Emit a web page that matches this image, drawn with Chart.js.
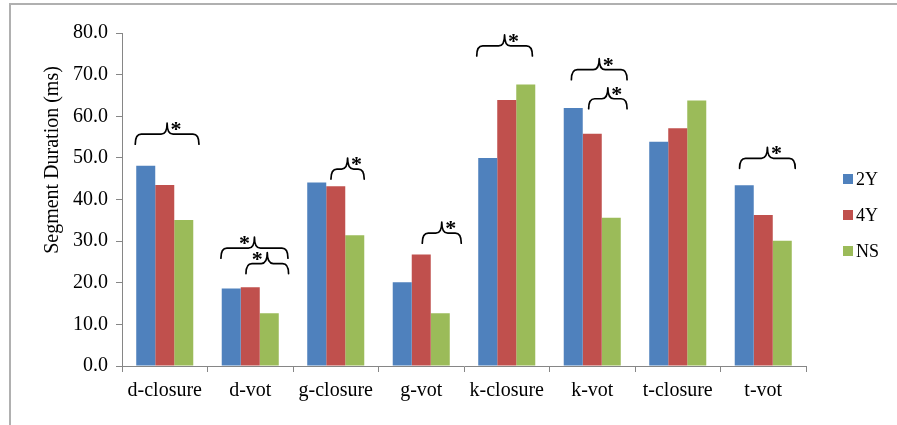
<!DOCTYPE html>
<html>
<head>
<meta charset="utf-8">
<script src="https://cdn.jsdelivr.net/npm/chart.js@4/dist/chart.umd.min.js"></script>
<style>
  html, body { margin: 0; padding: 0; background: #ffffff; }
  #wrap { width: 897px; height: 425px; }
</style>
</head>
<body>
<div id="wrap"><canvas id="chart" width="897" height="425"></canvas></div>
<script>
// Segment durations (ms) per consonant segment and speaker group
const segments = ['d-closure', 'd-vot', 'g-closure', 'g-vot', 'k-closure', 'k-vot', 't-closure', 't-vot'];
const seriesNames = ['2Y', '4Y', 'NS'];
const values2Y = [48.1, 18.6, 44.1, 20.1, 50.0, 62.0, 53.9, 43.4];
const values4Y = [43.5, 18.9, 43.2, 26.8, 63.9, 55.8, 57.1, 36.3];
const valuesNS = [35.1, 12.7, 31.4, 12.7, 67.6, 35.6, 63.8, 30.1];
const yTicks = [0, 10, 20, 30, 40, 50, 60, 70, 80];

// Significance markers: which segment, span (in category widths, relative to the
// category centre) and the level (ms) of the brace's horizontal stroke
const sigSegment = ['d-closure', 'd-vot', 'd-vot', 'g-closure', 'g-vot', 'k-closure', 'k-vot', 'k-vot', 't-vot'];
const sigFrom    = [-0.345, -0.343, -0.050, -0.056, 0.012, -0.351, -0.244, -0.042, -0.277];
const sigTo      = [ 0.400,  0.441,  0.448,  0.333, 0.468,  0.300,  0.407,  0.407,  0.374];
const sigLevel   = [ 55.7,   28.3,   24.6,   47.3,  31.9,   76.9,   71.2,   64.2,   49.9];
const sigStarLeft = [false, true, true, false, false, false, false, false, false];

const colors = ['#4F81BD', '#C0504D', '#9BBB59'];
const serif = "'Liberation Serif', 'Times New Roman', serif";

function drawBrace(ctx, x1, x2, y, tip, rise) {
  const xm = (x1 + x2) / 2;
  const r = 6;
  ctx.beginPath();
  ctx.moveTo(x1, y + tip);
  ctx.quadraticCurveTo(x1, y, x1 + r, y);
  ctx.lineTo(xm - r, y);
  ctx.quadraticCurveTo(xm, y, xm, y - rise);
  ctx.quadraticCurveTo(xm, y, xm + r, y);
  ctx.lineTo(x2 - r, y);
  ctx.quadraticCurveTo(x2, y, x2, y + tip);
  ctx.stroke();
}

const decorations = {
  id: 'decorations',
  beforeDraw(chart) {
    const ctx = chart.ctx;
    ctx.save();
    ctx.fillStyle = '#ffffff';
    ctx.fillRect(0, 0, chart.width, chart.height);
    // outer frame (top and left edges)
    ctx.strokeStyle = '#b0b0b0';
    ctx.lineWidth = 2;
    ctx.beginPath();
    ctx.moveTo(10, 425);
    ctx.lineTo(10, 4);
    ctx.lineTo(897, 4);
    ctx.stroke();
    ctx.restore();
  },
  afterDatasetsDraw(chart) {
    const ctx = chart.ctx;
    const xs = chart.scales.x, ys = chart.scales.y;
    const band = (xs.right - xs.left) / segments.length;
    ctx.save();
    ctx.strokeStyle = '#000000';
    ctx.lineWidth = 1.7;
    ctx.lineCap = 'round';
    ctx.lineJoin = 'round';
    ctx.fillStyle = '#000000';
    ctx.font = 'bold 22px ' + serif;
    ctx.textAlign = 'center';
    ctx.textBaseline = 'alphabetic';
    sigSegment.forEach((seg, i) => {
      const cx = xs.getPixelForValue(segments.indexOf(seg));
      const x1 = cx + sigFrom[i] * band;
      const x2 = cx + sigTo[i] * band;
      const y = ys.getPixelForValue(sigLevel[i]);
      drawBrace(ctx, x1, x2, y, 10, 11);
      const xm = (x1 + x2) / 2;
      const sx = xm + (sigStarLeft[i] ? -10 : 9);
      ctx.fillText('*', sx, y + 2);
    });
    ctx.restore();

    // y-axis title
    ctx.save();
    ctx.translate(53, 160);
    ctx.rotate(-Math.PI / 2);
    ctx.font = '20px ' + serif;
    ctx.fillStyle = '#000000';
    ctx.textAlign = 'center';
    ctx.textBaseline = 'middle';
    ctx.fillText('Segment Duration (ms)', 0, 0);
    ctx.restore();

    // legend
    ctx.save();
    ctx.font = '18px ' + serif;
    ctx.textAlign = 'left';
    ctx.textBaseline = 'middle';
    seriesNames.forEach((name, i) => {
      const cy = 179 + i * 36;
      ctx.fillStyle = colors[i];
      ctx.fillRect(843, cy - 5, 10, 10);
      ctx.fillStyle = '#000000';
      ctx.fillText(name, 856, cy + 1);
    });
    ctx.restore();
  }
};

new Chart(document.getElementById('chart'), {
  type: 'bar',
  data: {
    labels: segments,
    datasets: [
      { label: seriesNames[0], data: values2Y, backgroundColor: colors[0] },
      { label: seriesNames[1], data: values4Y, backgroundColor: colors[1] },
      { label: seriesNames[2], data: valuesNS, backgroundColor: colors[2] }
    ]
  },
  options: {
    responsive: false,
    animation: false,
    devicePixelRatio: 1,
    layout: { padding: { top: 33, right: 91, bottom: 0, left: 0 } },
    datasets: { bar: { barPercentage: 1.0, categoryPercentage: 0.667, borderWidth: 0 } },
    plugins: { legend: { display: false }, tooltip: { enabled: false } },
    scales: {
      x: {
        grid: { offset: true, drawOnChartArea: false, tickLength: 6, color: '#868686' },
        border: { color: '#868686', width: 1 },
        ticks: { color: '#000000', font: { family: serif, size: 20 }, padding: 7, maxRotation: 0 },
        afterFit(scale) { scale.height = 59; }
      },
      y: {
        min: 0,
        max: 80,
        afterBuildTicks(scale) { scale.ticks = yTicks.map(v => ({ value: v })); },
        grid: { drawOnChartArea: false, tickLength: 6, color: '#868686' },
        border: { color: '#868686', width: 1 },
        ticks: {
          color: '#000000',
          font: { family: serif, size: 20 },
          padding: 8,
          callback: v => Number(v).toFixed(1)
        },
        afterFit(scale) { scale.width = 122; }
      }
    }
  },
  plugins: [decorations]
});
</script>
</body>
</html>
